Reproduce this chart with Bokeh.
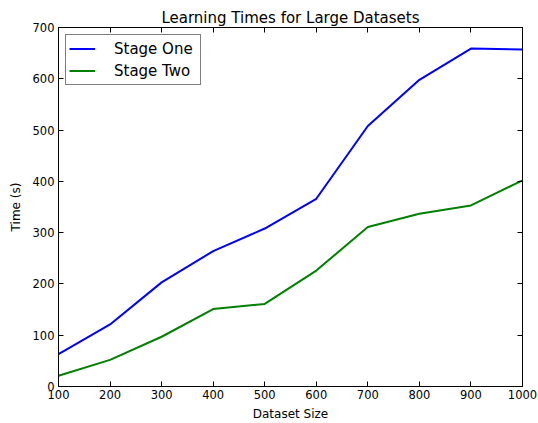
from bokeh.plotting import figure
from bokeh.models import LinearAxis, Range1d, FixedTicker, Legend, LegendItem
from bokeh.embed import file_html
from bokeh.resources import INLINE

sizes = [100, 200, 300, 400, 500, 600, 700, 800, 900, 1000]
stage_one = [63, 121, 203, 264, 308, 366, 508, 598, 659, 657]
stage_two = [21, 52, 97, 151, 161, 226, 311, 337, 353, 402]
x_ticks = [100, 200, 300, 400, 500, 600, 700, 800, 900, 1000]
y_ticks = [0, 100, 200, 300, 400, 500, 600, 700]

FONT = "DejaVu Sans"

p = figure(width=538, height=423, output_backend="svg", toolbar_location=None,
           x_range=Range1d(100, 1000), y_range=Range1d(0, 700),
           min_border_left=58, min_border_right=16, min_border_top=27, min_border_bottom=36,
           title="Learning Times for Large Datasets")
p.title.text_font = FONT
p.title.text_font_size = "15px"
p.title.text_font_style = "normal"
p.title.align = "center"
p.title.standoff = 2
p.title.text_color = "black"

p.grid.visible = False
p.outline_line_color = "black"
p.outline_line_width = 1
p.background_fill_color = "white"
p.border_fill_color = "white"

def style_axis(ax):
    ax.major_tick_in = 5
    ax.major_tick_out = 0
    ax.minor_tick_line_color = None
    ax.axis_line_color = "black"
    ax.major_tick_line_color = "black"
    ax.major_label_text_font = FONT
    ax.major_label_text_font_size = "11.5px"
    ax.major_label_text_color = "black"
    ax.axis_label_text_font = FONT
    ax.axis_label_text_font_size = "12px"
    ax.axis_label_text_font_style = "normal"
    ax.axis_label_text_color = "black"

xa = p.xaxis[0]
xa.ticker = FixedTicker(ticks=x_ticks)
xa.axis_label = "Dataset Size"
style_axis(xa)
xa.major_label_standoff = 3
xa.axis_label_standoff = 5

ya = p.yaxis[0]
ya.ticker = FixedTicker(ticks=y_ticks)
ya.axis_label = "Time (s)"
style_axis(ya)
ya.major_label_standoff = 4
ya.axis_label_standoff = 7

top = LinearAxis(ticker=FixedTicker(ticks=x_ticks))
style_axis(top)
top.major_label_text_font_size = "0px"
top.major_label_standoff = 0
top.major_label_overrides = {t: "" for t in x_ticks}
p.add_layout(top, "above")

right = LinearAxis(ticker=FixedTicker(ticks=y_ticks))
style_axis(right)
right.major_label_text_font_size = "0px"
right.major_label_standoff = 0
right.major_label_overrides = {t: "" for t in y_ticks}
p.add_layout(right, "right")

r1 = p.line(sizes, stage_one, line_color="#0000ff", line_width=2)
r2 = p.line(sizes, stage_two, line_color="#008000", line_width=2)

legend = Legend(items=[LegendItem(label="Stage One", renderers=[r1]),
                       LegendItem(label="Stage Two", renderers=[r2])],
                location="top_left", margin=7, padding=3, spacing=1,
                glyph_width=26, glyph_height=21, label_height=21, label_width=83,
                label_standoff=19,
                label_text_font=FONT, label_text_font_size="15px",
                label_text_color="black",
                border_line_color="black", border_line_width=1,
                background_fill_color="white", background_fill_alpha=1)
p.add_layout(legend, "center")

open("out.html", "w").write(file_html(p, INLINE))
